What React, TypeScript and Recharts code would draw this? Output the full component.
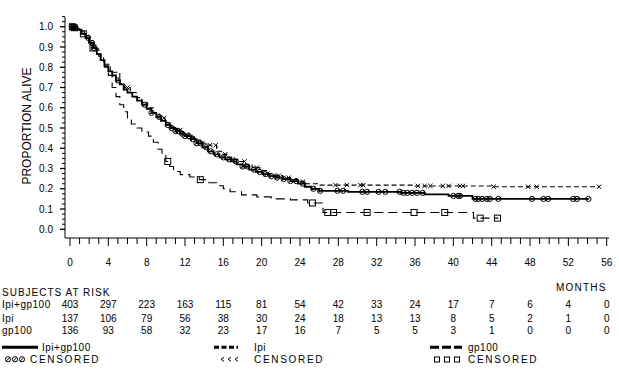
import React from 'react';
import { ComposedChart, Line, Scatter, XAxis, YAxis } from 'recharts';

const FONT = '"Liberation Sans", Arial, sans-serif';

// Kaplan-Meier steps (months, proportion alive)
const comboMonths = [0, 0.4, 0.8, 1.2, 1.6, 2.0, 2.4, 2.8, 3.2, 3.6, 4.0, 4.4, 4.8, 5.2, 5.6, 6.0, 6.5, 7.0, 7.5, 8.0, 8.5, 9.0, 9.5, 10.0, 10.5, 11.0, 11.5, 12.0, 12.6, 13.2, 13.8, 14.4, 15.0, 15.6, 16.2, 16.8, 17.4, 18.0, 18.7, 19.4, 20.1, 20.8, 21.5, 22.2, 23.0, 23.8, 24.5, 25.2, 26.0, 29.0, 34.5, 37.0, 39.5, 42.0, 54.1];
const comboSurv = [1.0, 0.995, 0.985, 0.965, 0.945, 0.92, 0.895, 0.865, 0.835, 0.805, 0.78, 0.76, 0.735, 0.715, 0.69, 0.675, 0.655, 0.635, 0.615, 0.595, 0.575, 0.555, 0.535, 0.515, 0.5, 0.485, 0.472, 0.46, 0.445, 0.425, 0.405, 0.385, 0.37, 0.355, 0.345, 0.335, 0.32, 0.31, 0.295, 0.283, 0.272, 0.262, 0.255, 0.248, 0.238, 0.225, 0.21, 0.2, 0.19, 0.185, 0.18, 0.172, 0.165, 0.15, 0.15];
const comboCensor = [0.2, 0.35, 0.5, 1.9, 2.3, 2.5, 5.0, 7.8, 8.5, 9.3, 10.2, 10.6, 11.0, 11.3, 11.7, 12.0, 12.4, 12.8, 13.2, 13.6, 14.2, 14.7, 15.3, 16.0, 16.6, 17.3, 18.0, 18.5, 19.2, 19.8, 20.4, 21.0, 21.6, 22.3, 23.0, 23.6, 24.3, 25.4, 26.1, 27.9, 28.5, 30.5, 31.0, 32.2, 32.9, 34.4, 34.8, 35.2, 35.7, 36.2, 36.8, 40.0, 40.5, 40.7, 42.3, 42.6, 43.0, 43.5, 43.8, 44.7, 48.2, 49.4, 49.9, 52.5, 52.9, 54.1];

const ipiMonths = [0, 0.5, 1.0, 1.5, 2.0, 2.5, 3.0, 3.5, 4.2, 5.2, 5.7, 6.3, 6.9, 7.5, 8.1, 8.7, 9.3, 9.9, 10.5, 11.1, 11.7, 12.4, 13.0, 13.6, 14.4, 15.3, 15.8, 16.4, 17.0, 17.6, 18.3, 19.0, 19.8, 20.6, 21.4, 22.2, 23.0, 24.0, 24.6, 26.0, 36.0, 44.0, 55.2];
const ipiSurv = [1.0, 0.99, 0.975, 0.955, 0.925, 0.89, 0.855, 0.815, 0.775, 0.72, 0.7, 0.675, 0.65, 0.625, 0.6, 0.575, 0.55, 0.525, 0.505, 0.49, 0.475, 0.455, 0.44, 0.425, 0.415, 0.385, 0.37, 0.355, 0.345, 0.335, 0.32, 0.305, 0.29, 0.275, 0.265, 0.255, 0.245, 0.235, 0.225, 0.218, 0.214, 0.21, 0.21];
const ipiCensor = [0.3, 0.6, 6.0, 9.8, 11.5, 12.6, 13.8, 14.6, 15.2, 16.2, 17.0, 18.2, 19.5, 20.6, 21.8, 22.8, 24.3, 27.7, 28.9, 30.3, 30.6, 36.3, 37.0, 37.6, 38.9, 39.5, 40.7, 41.0, 44.2, 47.8, 48.7, 55.2];

const gpMonths = [0, 0.4, 0.8, 1.2, 1.6, 2.0, 2.4, 2.8, 3.2, 3.6, 4.0, 4.4, 4.8, 5.2, 5.6, 6.0, 6.4, 6.8, 7.5, 8.2, 8.7, 9.2, 9.6, 10.0, 10.4, 10.8, 11.5, 12.5, 13.5, 14.5, 15.3, 16.0, 16.7, 17.9, 19.5, 21.0, 23.0, 24.8, 26.4, 42.1, 44.7];
const gpSurv = [1.0, 0.995, 0.985, 0.965, 0.945, 0.92, 0.895, 0.865, 0.835, 0.8, 0.76, 0.7, 0.655, 0.615, 0.58, 0.55, 0.52, 0.5, 0.48, 0.46, 0.43, 0.395, 0.365, 0.335, 0.31, 0.285, 0.27, 0.258, 0.245, 0.23, 0.215, 0.2, 0.185, 0.17, 0.16, 0.15, 0.145, 0.13, 0.083, 0.055, 0.055];
const gpCensor = [0.25, 0.45, 1.4, 2.4, 10.2, 13.6, 25.3, 26.9, 27.5, 31.0, 35.9, 39.1, 42.8, 44.6];

// subjects at risk
const riskMonths = [0, 4, 8, 12, 16, 20, 24, 28, 32, 36, 40, 44, 48, 52, 56];
const riskCombo = [403, 297, 223, 163, 115, 81, 54, 42, 33, 24, 17, 7, 6, 4, 0];
const riskIpi = [137, 106, 79, 56, 38, 30, 24, 18, 13, 13, 8, 5, 2, 1, 0];
const riskGp = [136, 93, 58, 32, 23, 17, 16, 7, 5, 5, 3, 1, 0, 0, 0];

const X_MIN = -0.52;
const X_MAX = 56.24;
const Y_MIN = -0.043;
const Y_MAX = 1.048;

const monthTicks = Array.from({ length: 57 }, (_, i) => i);
const yTicks = Array.from({ length: 43 }, (_, i) => Math.round(i * 25) / 1000);

const toSteps = (months: number[], surv: number[]) => months.map((m, i) => ({ m, s: surv[i] }));

// value of the step curve at time t
const stepAt = (months: number[], surv: number[], t: number) => {
  let s = surv[0];
  months.forEach((m, i) => { if (m <= t) s = surv[i]; });
  return s;
};
const censorPts = (months: number[], surv: number[], cens: number[]) =>
  cens.map(t => ({ m: t, s: stepAt(months, surv, t) }));

const comboData = toSteps(comboMonths, comboSurv);
const ipiData = toSteps(ipiMonths, ipiSurv);
const gpData = toSteps(gpMonths, gpSurv);

const txt = { fontFamily: FONT, fontSize: 10, fill: '#000' };

const renderXTick = (props: any) => {
  const { x, y, payload } = props;
  const v = payload.value;
  const major = v % 4 === 0;
  const idx = riskMonths.indexOf(v);
  return (
    <g>
      <line x1={x} x2={x} y1={y} y2={y + (major ? 8 : 6)} stroke="#000" strokeWidth={1} />
      {major && <text x={x} y={y + 28.3} textAnchor="middle" style={txt}>{v}</text>}
      {idx >= 0 && <text x={x} y={y + 69.9} textAnchor="middle" style={txt}>{riskCombo[idx]}</text>}
      {idx >= 0 && <text x={x} y={y + 84.3} textAnchor="middle" style={txt}>{riskIpi[idx]}</text>}
      {idx >= 0 && <text x={x} y={y + 96.3} textAnchor="middle" style={txt}>{riskGp[idx]}</text>}
    </g>
  );
};

const renderYTick = (props: any) => {
  const { x, y, payload } = props;
  const v = payload.value;
  const major = Math.abs(v * 10 - Math.round(v * 10)) < 1e-6;
  return (
    <g>
      <line x1={x - (major ? 5 : 3)} x2={x} y1={y} y2={y} stroke="#000" strokeWidth={major ? 1.3 : 1} />
      {major && <text x={x - 12} y={y + 3.6} textAnchor="end" style={txt}>{v.toFixed(1)}</text>}
    </g>
  );
};

const circleMark = (props: any) => {
  const { cx, cy } = props;
  return (
    <g key={props.key}>
      <circle cx={cx} cy={cy} r={2.6} fill="none" stroke="#000" strokeWidth={1} />
      <line x1={cx - 1.6} y1={cy + 1.6} x2={cx + 1.6} y2={cy - 1.6} stroke="#000" strokeWidth={1} />
    </g>
  );
};

const crossMark = (props: any) => {
  const { cx, cy } = props;
  return (
    <path d={`M${cx - 2.2},${cy - 2.2}L${cx + 2.2},${cy + 2.2}M${cx - 2.2},${cy + 2.2}L${cx + 2.2},${cy - 2.2}`} stroke="#000" strokeWidth={1} fill="none" />
  );
};

const squareMark = (props: any) => {
  const { cx, cy } = props;
  return <rect x={cx - 3} y={cy - 3} width={6} height={6} fill="none" stroke="#000" strokeWidth={1} />;
};

export default function App() {
  return (
    <div style={{ position: 'absolute', left: 0, top: 0, width: 619, height: 379, background: '#fff' }}>
      <ComposedChart width={619} height={379} margin={{ top: 17, right: 10, bottom: 111, left: 0 }}>
        <XAxis
          dataKey="m"
          type="number"
          domain={[X_MIN, X_MAX]}
          ticks={monthTicks}
          interval={0}
          allowDataOverflow
          tick={renderXTick}
          tickLine={false}
          tickSize={0}
          tickMargin={0}
          height={30}
          axisLine={{ stroke: '#000' }}
        />
        <YAxis
          dataKey="s"
          type="number"
          domain={[Y_MIN, Y_MAX]}
          ticks={yTicks}
          interval={0}
          allowDataOverflow
          tick={renderYTick}
          tickLine={false}
          tickSize={0}
          tickMargin={0}
          width={65}
          axisLine={{ stroke: '#000' }}
        />
        <Line data={gpData} dataKey="s" type="stepAfter" stroke="#000" strokeWidth={1.1} strokeDasharray="9 5" dot={false} isAnimationActive={false} />
        <Line data={ipiData} dataKey="s" type="stepAfter" stroke="#000" strokeWidth={1.1} strokeDasharray="5 3" dot={false} isAnimationActive={false} />
        <Line data={comboData} dataKey="s" type="stepAfter" stroke="#000" strokeWidth={1.8} dot={false} isAnimationActive={false} />
        <Scatter data={censorPts(gpMonths, gpSurv, gpCensor)} dataKey="s" shape={squareMark} isAnimationActive={false} />
        <Scatter data={censorPts(ipiMonths, ipiSurv, ipiCensor)} dataKey="s" shape={crossMark} isAnimationActive={false} />
        <Scatter data={censorPts(comboMonths, comboSurv, comboCensor)} dataKey="s" shape={circleMark} isAnimationActive={false} />
      </ComposedChart>
      <svg width={619} height={379} style={{ position: 'absolute', left: 0, top: 0, pointerEvents: 'none' }}>
        <text transform="translate(31,126) rotate(-90)" textAnchor="middle" style={{ ...txt, fontSize: 12 }}>PROPORTION ALIVE</text>
        <text x={2} y={296.3} style={{ ...txt, letterSpacing: 1 }}>SUBJECTS AT RISK</text>
        <text x={556} y={291.3} style={{ ...txt, letterSpacing: 1.2 }}>MONTHS</text>
        <text x={2} y={307.9} style={{ ...txt, letterSpacing: 0.5 }}>Ipi+gp100</text>
        <text x={2} y={322.3} style={{ ...txt, letterSpacing: 0.5 }}>Ipi</text>
        <text x={2} y={334.3} style={{ ...txt, letterSpacing: 0.5 }}>gp100</text>

        <line x1={2} x2={38} y1={347.3} y2={347.3} stroke="#000" strokeWidth={3} />
        <text x={42} y={350.9} style={{ ...txt, letterSpacing: 0.5 }}>Ipi+gp100</text>
        {[8, 15, 22].map(cx => circleMark({ cx, cy: 359.3, key: cx }))}
        <text x={30} y={362.9} style={{ ...txt, letterSpacing: 1.7 }}>CENSORED</text>

        <line x1={214} x2={238} y1={347.3} y2={347.3} stroke="#000" strokeWidth={3} strokeDasharray="5 2.5" />
        <text x={254} y={350.9} style={{ ...txt, letterSpacing: 0.5 }}>Ipi</text>
        {[222, 229, 236].map(cx => (
          <path key={cx} d={`M${cx + 2},${357.3}L${cx - 1},${359.3}L${cx + 2},${361.3}`} stroke="#000" fill="none" strokeWidth={1} />
        ))}
        <text x={254} y={362.9} style={{ ...txt, letterSpacing: 1.7 }}>CENSORED</text>

        <line x1={430} x2={462} y1={347.3} y2={347.3} stroke="#000" strokeWidth={3} strokeDasharray="9 3" />
        <text x={468} y={350.9} style={{ ...txt, letterSpacing: 0.5 }}>gp100</text>
        {[437, 447, 457].map(cx => (
          <rect key={cx} x={cx - 2.5} y={357} width={5} height={5} fill="none" stroke="#000" strokeWidth={1} />
        ))}
        <text x={468} y={362.9} style={{ ...txt, letterSpacing: 1.7 }}>CENSORED</text>
      </svg>
    </div>
  );
}
